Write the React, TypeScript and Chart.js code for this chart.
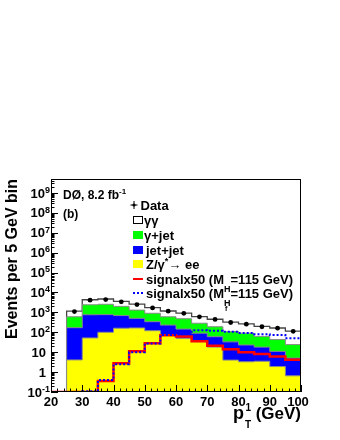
import React, { useEffect, useRef } from 'react';
import { Chart, registerables } from 'chart.js';

Chart.register(...registerables);

// ---- data ----
const binLowEdges = [20, 25, 30, 35, 40, 45, 50, 55, 60, 65, 70, 75, 80, 85, 90, 95];
const binUpperEdge = 100;
const dataCounts = [null, 1100, 4100, 4400, 3400, 2450, 1680, 1150, 900, 600, 440, 310, 255, 190, 160, 112];
const zeeBkg = [0, 4.1, 52, 100, 160, 165, 120, 70, 50, 34, 18, 4, 3.3, 3.5, 1.9, 0.65];
const jetJetBkg = [0, 166, 708, 670, 530, 335, 220, 160, 95, 56, 42, 29, 19.7, 14.5, 9.1, 4.4];
const gammaJetBkg = [0, 430, 1640, 1780, 1310, 800, 560, 370, 335, 195, 130, 77, 67, 44, 32, 19];
const diphotonBkg = [0, 550, 1900, 2150, 1600, 1300, 850, 570, 440, 325, 260, 210, 175, 138, 121, 91];
const signalMH = [0.1, 0.1, 0.1, 0.36, 2.8, 11, 28, 70, 62, 35, 21, 14, 9.8, 8, 6, 4.2];
const signalMHf = [0.1, 0.1, 0.11, 0.4, 2.5, 10, 27, 74, 80, 125, 120, 105, 92, 80, 72, 50];
const xTickValues = [20, 30, 40, 50, 60, 70, 80, 90, 100];
const yDecadeExponents = [-1, 0, 1, 2, 3, 4, 5, 6, 7, 8, 9];

const X_MIN = 20;
const X_MAX = 100;
const Y_MIN = 0.1;
const Y_MAX = 5e9;
const HIDDEN = 0.01; // empty bins drawn below the axis minimum

const FONT = '"Liberation Sans", Arial, Helvetica, sans-serif';
const bf = (s: number) => `bold ${s}px ${FONT}`;

function cumulative(...series: number[][]): number[] {
  return series[0].map((_, i) => series.reduce((a, s) => a + s[i], 0));
}

function stepPoints(vals: number[]) {
  const pts = binLowEdges.map((x, i) => ({ x, y: vals[i] > 0 ? vals[i] : HIDDEN }));
  const last = vals[vals.length - 1];
  pts.push({ x: binUpperEdge, y: last > 0 ? last : HIDDEN });
  return pts;
}

type Run = { t: string; s: number; dy?: number };

function runsWidth(ctx: CanvasRenderingContext2D, runs: Run[]) {
  let w = 0;
  for (const r of runs) {
    ctx.font = bf(r.s);
    w += ctx.measureText(r.t).width;
  }
  return w;
}

function drawRuns(ctx: CanvasRenderingContext2D, runs: Run[], x: number, y: number) {
  let cx = x;
  ctx.textAlign = 'left';
  ctx.textBaseline = 'alphabetic';
  for (const r of runs) {
    ctx.font = bf(r.s);
    ctx.fillText(r.t, cx, y + (r.dy || 0));
    cx += ctx.measureText(r.t).width;
  }
  return cx;
}

const decorPlugin = {
  id: 'rootDecor',
  afterDraw(chart: any) {
    const ctx: CanvasRenderingContext2D = chart.ctx;
    const ca = chart.chartArea;
    const xs = chart.scales.x;
    const ys = chart.scales.y;
    ctx.save();
    ctx.fillStyle = '#000';
    ctx.strokeStyle = '#000';
    ctx.lineWidth = 1;

    // frame
    ctx.strokeRect(Math.round(ca.left) + 0.5, Math.round(ca.top) + 0.5, Math.round(ca.right - ca.left) - 1, Math.round(ca.bottom - ca.top) - 1);

    // x ticks (inside)
    ctx.beginPath();
    for (let v = X_MIN; v <= X_MAX; v += 2) {
      const px = Math.round(xs.getPixelForValue(v)) + 0.5;
      const len = v % 10 === 0 ? 7 : 3.5;
      ctx.moveTo(px, ca.bottom);
      ctx.lineTo(px, ca.bottom - len);
    }
    // y ticks (inside)
    for (let k = -1; k <= 9; k++) {
      for (let m = 1; m <= 9; m++) {
        const v = m * Math.pow(10, k);
        if (v < Y_MIN || v > Y_MAX) continue;
        const py = Math.round(ys.getPixelForValue(v)) + 0.5;
        const len = m === 1 ? 7 : 3.5;
        ctx.moveTo(ca.left, py);
        ctx.lineTo(ca.left + len, py);
      }
    }
    ctx.stroke();

    // x tick labels
    ctx.font = bf(13);
    ctx.textAlign = 'center';
    ctx.textBaseline = 'alphabetic';
    for (const v of xTickValues) {
      const px = xs.getPixelForValue(v);
      ctx.fillText(String(v), v === 100 ? px - 3 : px, ca.bottom + 13.5);
    }

    // y tick labels
    for (const k of yDecadeExponents) {
      const py = ys.getPixelForValue(Math.pow(10, k));
      let runs: Run[];
      let right: number;
      if (k === 0) { runs = [{ t: '1', s: 13 }]; right = 46; }
      else if (k === 1) { runs = [{ t: '10', s: 13 }]; right = 46; }
      else { runs = [{ t: '10', s: 13 }, { t: String(k), s: 9, dy: -4.8 }]; right = 50; }
      const w = runsWidth(ctx, runs);
      drawRuns(ctx, runs, right - w, py + 4.6);
    }

    // y axis title
    ctx.save();
    ctx.translate(17, 259);
    ctx.rotate(-Math.PI / 2);
    ctx.font = bf(16);
    ctx.textAlign = 'center';
    ctx.textBaseline = 'alphabetic';
    ctx.fillText('Events per 5 GeV bin', 0, 0);
    ctx.restore();

    // x axis title  p_T^1 (GeV)
    ctx.textAlign = 'left';
    ctx.font = bf(18);
    ctx.fillText('p', 233, 419);
    ctx.font = bf(10);
    ctx.fillText('1', 245.5, 411);
    ctx.fillText('T', 245, 428);
    ctx.font = bf(17);
    ctx.textAlign = 'right';
    ctx.fillText('(GeV)', 301, 419);

    // experiment label
    const cx = drawRuns(ctx, [{ t: 'DØ, 8.2 fb', s: 12 }], 63, 199);
    drawRuns(ctx, [{ t: '-1', s: 8, dy: -5 }], cx, 199);
    drawRuns(ctx, [{ t: '(b)', s: 12 }], 63, 217.5);

    // legend
    const lx0 = 133;
    const lx1 = 143;
    const rows = [205, 220, 235, 250, 264, 279, 293];
    // Data marker (point with error cross)
    ctx.beginPath();
    ctx.moveTo(130.5, rows[0]); ctx.lineTo(137.5, rows[0]);
    ctx.moveTo(134, rows[0] - 4); ctx.lineTo(134, rows[0] + 4);
    ctx.stroke();
    ctx.beginPath(); ctx.arc(134, rows[0], 1.6, 0, Math.PI * 2); ctx.fill();
    drawRuns(ctx, [{ t: 'Data', s: 13 }], 140.5, rows[0] + 4.6);
    // boxes
    const boxes: [string, number][] = [['#ffffff', rows[1]], ['#00ff00', rows[2]], ['#0000ff', rows[3]], ['#ffff00', rows[4]]];
    for (const [col, yy] of boxes) {
      ctx.fillStyle = col;
      ctx.fillRect(lx0, yy - 4, lx1 - lx0, 8);
      if (col === '#ffffff') {
        ctx.strokeStyle = '#000';
        ctx.strokeRect(lx0 + 0.5, yy - 3.5, lx1 - lx0 - 1, 7);
      }
    }
    ctx.fillStyle = '#000';
    drawRuns(ctx, [{ t: 'γγ', s: 13 }], 144, rows[1] + 4.6);
    drawRuns(ctx, [{ t: 'γ+jet', s: 13 }], 144, rows[2] + 4.6);
    drawRuns(ctx, [{ t: 'jet+jet', s: 13 }], 146, rows[3] + 4.6);
    drawRuns(ctx, [{ t: 'Z/γ', s: 13 }, { t: '*', s: 9, dy: -5 }, { t: '→ ee', s: 13 }], 146, rows[4] + 4.6);
    // signal lines
    ctx.strokeStyle = '#ff0000';
    ctx.lineWidth = 2;
    ctx.beginPath(); ctx.moveTo(lx0, rows[5]); ctx.lineTo(lx1, rows[5]); ctx.stroke();
    ctx.strokeStyle = '#0000ff';
    ctx.setLineDash([2, 2]);
    ctx.beginPath(); ctx.moveTo(lx0, rows[6]); ctx.lineTo(lx1, rows[6]); ctx.stroke();
    ctx.setLineDash([]);
    ctx.fillStyle = '#000';
    let sx = drawRuns(ctx, [{ t: 'signalx50 (M', s: 13 }], 146, rows[5] + 4.6);
    ctx.font = bf(9);
    const hw = ctx.measureText('H').width;
    drawRuns(ctx, [{ t: '=115 GeV)', s: 13 }], sx + hw, rows[5] + 4.6);
    ctx.font = bf(9);
    ctx.fillText('H', sx, rows[5] + 4.6 + 8);
    sx = drawRuns(ctx, [{ t: 'signalx50 (M', s: 13 }], 146, rows[6] + 4.6);
    drawRuns(ctx, [{ t: '=115 GeV)', s: 13 }], sx + hw, rows[6] + 4.6);
    ctx.font = bf(9);
    ctx.fillText('H', sx, rows[6] + 4.6 + 8);
    ctx.font = bf(7);
    ctx.fillText('f', sx + 1, rows[6] + 4.6 + 13.5);

    ctx.restore();
  },
};

export default function App() {
  const ref = useRef<HTMLCanvasElement | null>(null);

  useEffect(() => {
    if (!ref.current) return;
    const yellowTop = cumulative(zeeBkg);
    const blueTop = cumulative(zeeBkg, jetJetBkg);
    const greenTop = cumulative(zeeBkg, jetJetBkg, gammaJetBkg);
    const whiteTop = cumulative(zeeBkg, jetJetBkg, gammaJetBkg, diphotonBkg);

    const dataPts = binLowEdges
      .map((x, i) => ({ x: x + 2.5, y: dataCounts[i] }))
      .filter((p) => p.y !== null) as { x: number; y: number }[];

    const histo = (vals: number[], fillColor: string, border: string, bw: number) => ({
      data: stepPoints(vals),
      stepped: 'before' as const,
      fill: 'start',
      backgroundColor: fillColor,
      borderColor: border,
      borderWidth: bw,
      pointRadius: 0,
    });

    const chart = new Chart(ref.current, {
      type: 'line',
      data: {
        datasets: [
          {
            label: 'Data',
            data: dataPts,
            showLine: false,
            pointRadius: 2.4,
            pointBackgroundColor: '#000',
            pointBorderColor: '#000',
            pointBorderWidth: 0,
          } as any,
          {
            label: 'signalx50 (MHf=115 GeV)',
            data: stepPoints(signalMHf),
            stepped: 'before',
            fill: false,
            borderColor: '#0000ff',
            borderWidth: 2,
            borderDash: [2, 2],
            pointRadius: 0,
          },
          {
            label: 'signalx50 (MH=115 GeV)',
            data: stepPoints(signalMH),
            stepped: 'before',
            fill: false,
            borderColor: '#ff0000',
            borderWidth: 2.5,
            pointRadius: 0,
          },
          { label: 'Z/γ* → ee', ...histo(yellowTop, '#ffff00', '#8a8a8a', 1) },
          { label: 'jet+jet', ...histo(blueTop, '#0000ff', '#8a8a8a', 1) },
          { label: 'γ+jet', ...histo(greenTop, '#00ff00', '#8a8a8a', 1) },
          { label: 'γγ', ...histo(whiteTop, '#ffffff', '#444444', 1.3) },
        ] as any,
      },
      options: {
        animation: false,
        responsive: true,
        maintainAspectRatio: false,
        layout: { padding: { left: 51, right: 39, top: 179, bottom: 48 } },
        scales: {
          x: { type: 'linear', min: X_MIN, max: X_MAX, display: false },
          y: { type: 'logarithmic', min: Y_MIN, max: Y_MAX, display: false },
        },
        plugins: {
          legend: { display: false },
          tooltip: { enabled: false },
        },
        elements: { line: { tension: 0 } },
      },
      plugins: [decorPlugin],
    });
    return () => chart.destroy();
  }, []);

  return (
    <div style={{ position: 'absolute', left: 0, top: 0, width: 340, height: 440, background: '#fff' }}>
      <canvas ref={ref} />
    </div>
  );
}
